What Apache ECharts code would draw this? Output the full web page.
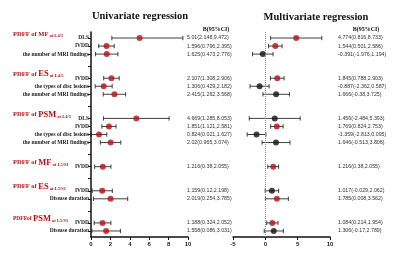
<!DOCTYPE html>
<html><head><meta charset="utf-8">
<script src="https://cdn.jsdelivr.net/npm/echarts@6/dist/echarts.min.js"></script>
<style>html,body{margin:0;padding:0;background:#fff}#c{width:400px;height:269px}</style>
</head><body><div id="c"></div>
<script>
// ---- data ----
const groupNames = ['MF', 'ES', 'PSM', 'MF', 'ES', 'PSM'];
const groupPrefix = ['PDFF of ', 'PDFF of ', 'PDFF of ', 'PDFF of ', 'PDFF of ', 'PDFFof '];
const groupLevels = ['L4/5', 'L4/5', 'L4/5', 'L5/S1', 'L5/S1', 'L5/S1'];
const groupItems = [
  ['DLS', 'IVDD', 'the number of MRI findings'],
  ['IVDD', 'the types of disc lesions', 'the number of MRI findings'],
  ['DLS', 'IVDD', 'the types of disc lesions', 'the number of MRI findings'],
  ['IVDD'],
  ['IVDD', 'Disease duration'],
  ['IVDD', 'Disease duration']
];
const uniB    = [5.01, 1.596, 1.625, 2.107, 1.306, 2.415, 4.669, 1.851, 0.824, 2.02, 1.216, 1.159, 2.019, 1.188, 1.558];
const uniLow  = [2.148, 0.796, 0.473, 1.308, 0.429, 1.262, 1.285, 1.121, 0.021, 0.965, 0.38, 0.12, 0.254, 0.324, 0.086];
const uniHigh = [9.472, 2.395, 2.776, 2.906, 2.182, 3.568, 8.053, 2.581, 1.627, 3.074, 2.055, 2.198, 3.785, 2.052, 3.031];
const multiB    = [4.774, 1.544, -0.391, 1.845, -0.887, 1.666, 1.456, 1.769, -1.359, 1.646, 1.216, 1.017, 1.785, 1.084, 1.306];
const multiLow  = [0.816, 0.501, -1.976, 0.788, -2.362, -0.38, -2.484, 0.824, -2.813, -0.513, 0.38, -0.029, 0.008, 0.214, -0.17];
const multiHigh = [8.733, 2.586, 1.194, 2.903, 0.587, 3.725, 5.393, 2.753, 0.095, 3.806, 2.055, 2.062, 3.562, 1.954, 2.789];
const multiSig  = [1, 1, 0, 1, 0, 0, 0, 1, 0, 0, 1, 0, 1, 1, 0];
const uniTicks = [0, 2, 4, 6, 8, 10];
const multiTicks = [-5, 0, 5, 10];

// ---- build row layout (category slots) ----
const cats = [], kind = [], label = [], headerGroup = {}, rowSlot = [];
function push(k, t) { cats.push('c' + cats.length); kind.push(k); label.push(t || ''); }
let r = 0;
groupItems.forEach((items, g) => {
  if (g > 0) { push('b'); push('b'); push('tick'); push('b'); }
  headerGroup[cats.length] = g; push('header');
  items.forEach((name, i) => {
    if (i > 0) push('b');
    rowSlot[r] = cats.length; push('row', name); r++;
  });
});
push('b');
const rowOfSlot = {}; rowSlot.forEach((s, i) => rowOfSlot[s] = i);

const RED = '#b40f14';
const serif = 'Liberation Serif';
const sans = 'Liberation Sans';

function ciText(b, lo, hi) { return b + '(' + lo + ',' + hi + ')'; }

function errBar(params, api) {
  const y = api.value(2);
  const p1 = api.coord([api.value(0), y]);
  const p2 = api.coord([api.value(1), y]);
  const h = 2.2, st = { stroke: '#111', lineWidth: 0.8 };
  return { type: 'group', children: [
    { type: 'line', shape: { x1: p1[0], y1: p1[1], x2: p2[0], y2: p2[1] }, style: st },
    { type: 'line', shape: { x1: p1[0], y1: p1[1] - h, x2: p1[0], y2: p1[1] + h }, style: st },
    { type: 'line', shape: { x1: p2[0], y1: p2[1] - h, x2: p2[0], y2: p2[1] + h }, style: st }
  ]};
}

const catAxisBase = { type: 'category', data: cats, inverse: true, boundaryGap: true };

const option = {
  animation: false,
  title: [
    { text: 'Univariate regression', left: 135, top: 6, textAlign: 'center',
      textStyle: { fontFamily: serif, fontWeight: 'bold', fontSize: 10.5, color: '#111' } },
    { text: 'Multivariate regression', left: 311, top: 7, textAlign: 'center',
      textStyle: { fontFamily: serif, fontWeight: 'bold', fontSize: 10.5, color: '#111' } },
    { text: 'B(95%CI)', left: 211, top: 21, textAlign: 'center',
      textStyle: { fontFamily: serif, fontWeight: 'bold', fontSize: 6, color: '#111' } },
    { text: 'B(95%CI)', left: 361, top: 21, textAlign: 'center',
      textStyle: { fontFamily: serif, fontWeight: 'bold', fontSize: 6, color: '#111' } }
  ],
  grid: [
    { left: 91, right: 212, top: 32, bottom: 32 },
    { left: 233, right: 70, top: 32, bottom: 32 }
  ],
  xAxis: [
    { gridIndex: 0, type: 'value', min: 0, max: 10, interval: 2,
      axisLine: { show: true, lineStyle: { color: '#111', width: 1.5 } },
      axisTick: { show: true, length: 3, lineStyle: { color: '#111', width: 1 } },
      splitLine: { show: false },
      axisLabel: { margin: 4, fontFamily: sans, fontWeight: 'bold', fontSize: 6, color: '#222',
        formatter: v => uniTicks.includes(v) ? String(v) : '' } },
    { gridIndex: 1, type: 'value', min: -5, max: 10, interval: 5,
      axisLine: { show: true, lineStyle: { color: '#111', width: 1.5 } },
      axisTick: { show: true, length: 3, lineStyle: { color: '#111', width: 1 } },
      splitLine: { show: false },
      axisLabel: { margin: 4, fontFamily: sans, fontWeight: 'bold', fontSize: 6, color: '#222',
        formatter: v => multiTicks.includes(v) ? String(v) : '' } }
  ],
  yAxis: [
    Object.assign({}, catAxisBase, { gridIndex: 0, position: 'left',
      axisLine: { show: true, lineStyle: { color: '#111', width: 1.5 } },
      axisTick: { show: true, length: 3, alignWithLabel: true, lineStyle: { color: '#111', width: 1 },
        interval: (i) => kind[i] === 'row' || kind[i] === 'tick' },
      axisLabel: { margin: 2, fontFamily: serif, fontWeight: 'bold', fontSize: 5.5, color: '#222',
        interval: (i) => kind[i] === 'row', formatter: (v, i) => label[i] } }),
    Object.assign({}, catAxisBase, { gridIndex: 0, position: 'left',
      axisLine: { show: false }, axisTick: { show: false },
      axisLabel: { margin: 78, align: 'left',
        interval: (i) => kind[i] === 'header',
        formatter: (v, i) => {
          const g = headerGroup[i];
          return '{' + (g === 5 ? 'a5' : 'a') + '|' + groupPrefix[g] + '}{' + (g === 0 ? 'n0' : 'n') + '|' + groupNames[g] + '}{s| at ' + groupLevels[g] + '}';
        },
        rich: {
          a: { fontFamily: serif, fontWeight: 'bold', fontSize: 6.5, color: RED },
          a5: { fontFamily: serif, fontWeight: 'bold', fontSize: 5.5, color: RED },
          n0: { fontFamily: serif, fontWeight: 'bold', fontSize: 6.5, color: RED },
          n: { fontFamily: serif, fontWeight: 'bold', fontSize: 8.5, color: RED },
          s: { fontFamily: serif, fontWeight: 'bold', fontSize: 4.5, color: RED, padding: [4, 0, 0, 0] }
        } } }),
    Object.assign({}, catAxisBase, { gridIndex: 0, position: 'right',
      axisLine: { show: false }, axisTick: { show: false },
      axisLabel: { margin: -1, align: 'left', fontFamily: sans, fontSize: 5.3, color: '#333',
        interval: (i) => kind[i] === 'row',
        formatter: (v, i) => { const k = rowOfSlot[i]; return ciText(uniB[k], uniLow[k], uniHigh[k]); } } }),
    Object.assign({}, catAxisBase, { gridIndex: 1, position: 'right',
      axisLine: { show: false }, axisTick: { show: false },
      axisLabel: { margin: 8, align: 'left', fontFamily: sans, fontSize: 5.3, color: '#333',
        interval: (i) => kind[i] === 'row',
        formatter: (v, i) => { const k = rowOfSlot[i]; return ciText(multiB[k], multiLow[k], multiHigh[k]); } } })
  ],
  series: [
    { type: 'custom', xAxisIndex: 0, yAxisIndex: 0, renderItem: errBar, encode: { x: [0, 1], y: 2 },
      data: uniB.map((b, k) => [uniLow[k], uniHigh[k], rowSlot[k]]), z: 2 },
    { type: 'scatter', xAxisIndex: 0, yAxisIndex: 0, symbolSize: 6, z: 3,
      itemStyle: { color: RED },
      data: uniB.map((b, k) => [b, rowSlot[k]]) },
    { type: 'custom', xAxisIndex: 1, yAxisIndex: 3, renderItem: errBar, encode: { x: [0, 1], y: 2 },
      data: multiB.map((b, k) => [multiLow[k], multiHigh[k], rowSlot[k]]), z: 2 },
    { type: 'scatter', xAxisIndex: 1, yAxisIndex: 3, symbolSize: 6, z: 3,
      data: multiB.map((b, k) => ({ value: [b, rowSlot[k]], itemStyle: { color: multiSig[k] ? RED : '#111' } })),
      markLine: { silent: true, symbol: 'none', label: { show: false },
        lineStyle: { type: 'dotted', color: '#888', width: 1 }, data: [{ xAxis: 0 }] } }
  ]
};
const chart = echarts.init(document.getElementById('c'), null, { renderer: 'canvas' });
chart.setOption(option);
</script></body></html>
